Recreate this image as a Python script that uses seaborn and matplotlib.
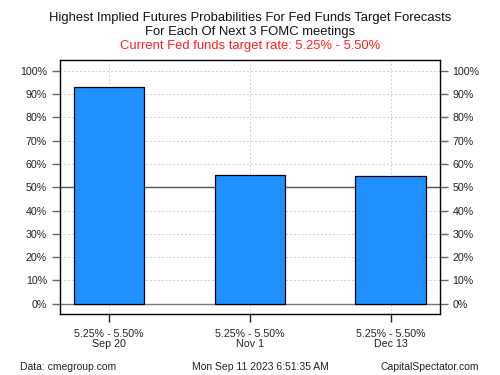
import seaborn as sns
import matplotlib.pyplot as plt
import pandas as pd

meetings = ['Sep 20', 'Nov 1', 'Dec 13']
target_ranges = ['5.25% - 5.50%', '5.25% - 5.50%', '5.25% - 5.50%']
probabilities = [93.0, 55.3, 54.9]
y_ticks = [0, 10, 20, 30, 40, 50, 60, 70, 80, 90, 100]

df = pd.DataFrame({'label': [r + '\n' + m for r, m in zip(target_ranges, meetings)],
                   'prob': probabilities})

sns.set_theme(style='white')
plt.rcParams['font.family'] = ['Liberation Sans', 'DejaVu Sans']

fig = plt.figure(figsize=(5, 3.75), dpi=100)
ax = fig.add_axes([0.119, 0.1635, 0.761, 0.6765])

ax.axhline(0, color='#777777', lw=1, zorder=1)
ax.axhline(50, color='#555555', lw=1, zorder=1)
sns.barplot(data=df, x='label', y='prob', color='#1E90FF', saturation=1,
            width=0.5, edgecolor='black', linewidth=0.9, ax=ax, zorder=2)

ax.set_xlim(-0.35, 2.35)
ax.set_ylim(-4.3, 104.7)
ax.set_yticks(y_ticks)
ax.set_yticklabels([f'{t}%' for t in y_ticks])
ax.grid(True, color='#d0d0d0', linestyle=(0, (2, 2)), lw=0.7, zorder=0)
ax.set_axisbelow(True)
ax.set_xlabel('')
ax.set_ylabel('')

for s in ax.spines.values():
    s.set_color('black')
    s.set_linewidth(1)

ax.tick_params(axis='y', left=True, right=True, labelleft=True, labelright=True,
               length=6, width=1, color='#666666', labelsize=7.7, labelcolor='#222222', pad=3)
ax.tick_params(axis='x', bottom=True, length=6, width=1, color='#222222',
               labelsize=7.7, labelcolor='#222222', pad=5)
for lab in ax.get_xticklabels():
    lab.set_linespacing(1.0)

fig.text(0.5, 0.953, 'Highest Implied Futures Probabilities For Fed Funds Target Forecasts',
         ha='center', va='center', fontsize=9.4, color='#111111')
fig.text(0.5, 0.916, 'For Each Of Next 3 FOMC meetings',
         ha='center', va='center', fontsize=9.4, color='#111111')
fig.text(0.5, 0.878, 'Current Fed funds target rate: 5.25% - 5.50%',
         ha='center', va='center', fontsize=9.4, color='#ff2020')

fig.text(0.04, 0.022, 'Data: cmegroup.com', ha='left', va='center', fontsize=7.5, color='#222222')
fig.text(0.52, 0.022, 'Mon Sep 11 2023 6:51:35 AM', ha='center', va='center', fontsize=7.5, color='#222222')
fig.text(0.958, 0.022, 'CapitalSpectator.com', ha='right', va='center', fontsize=7.5, color='#222222')

plt.savefig('out.png', dpi=100)
